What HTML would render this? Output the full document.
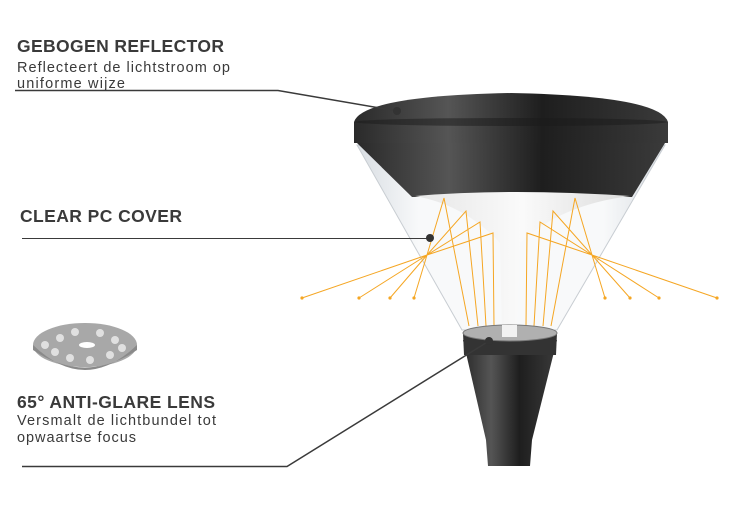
<!DOCTYPE html><html><head><meta charset="utf-8"><style>
body{margin:0;width:734px;height:522px;background:#fff;overflow:hidden;font-family:"Liberation Sans",sans-serif;color:#3a3a3a}
</style></head><body>
<svg width="734" height="522" viewBox="0 0 734 522" xmlns="http://www.w3.org/2000/svg">
<defs>
<linearGradient id="dk" x1="0" x2="1"><stop offset="0" stop-color="#2a2a2a"/><stop offset=".3" stop-color="#555"/><stop offset=".6" stop-color="#1e1e1e"/><stop offset="1" stop-color="#3a3a3a"/></linearGradient>
<linearGradient id="gl" x1="0" x2="1"><stop offset="0" stop-color="#d8dde2"/><stop offset=".2" stop-color="#f8f9fa"/><stop offset=".8" stop-color="#f8f9fa"/><stop offset="1" stop-color="#d8dde2"/></linearGradient>
<linearGradient id="wf" x1="0" x2="1"><stop offset="0" stop-color="#e6e6e6"/><stop offset=".5" stop-color="#fafafa"/><stop offset="1" stop-color="#dcdcdc"/></linearGradient>
</defs>
<path d="M357 145 L665 145 L557 330 L462 330 Z" fill="url(#gl)" stroke="#c8cdd2"/>
<path d="M357 143 L665 143 L632 197 L412 197 Z" fill="url(#dk)"/>
<path d="M354 122 Q362 96 511 93 Q660 96 668 122 L668 143 L354 143 Z" fill="url(#dk)"/>
<ellipse cx="511" cy="122" rx="156" ry="4" fill="#1a1a1a" opacity=".5"/>
<path d="M415 196 Q511 188 630 196 Q560 205 520 243 L517 337 L502 337 L500 243 Q465 205 415 196 Z" fill="url(#wf)"/>
<g stroke="#f5a623" stroke-width="1" fill="none">
<path d="M302 298 L427 255 M359 298 L427 255 M390 298 L427 255 M414 298 L427 255"/>
<path d="M427 255 L444 198 L469 326 M427 255 L466 211 L478 326 M427 255 L480 222 L486 326 M427 255 L493 233 L494 326"/>
<path d="M717 298 L592 255 M659 298 L592 255 M630 298 L592 255 M605 298 L592 255"/>
<path d="M592 255 L575 198 L551 326 M592 255 L553 211 L543 326 M592 255 L540 222 L534 326 M592 255 L527 233 L526 326"/>
</g>
<g fill="#f5a623"><circle cx="302" cy="298" r="1.6"/><circle cx="359" cy="298" r="1.6"/><circle cx="390" cy="298" r="1.6"/><circle cx="414" cy="298" r="1.6"/><circle cx="717" cy="298" r="1.6"/><circle cx="659" cy="298" r="1.6"/><circle cx="630" cy="298" r="1.6"/><circle cx="605" cy="298" r="1.6"/></g>
<path d="M463 340 L557 340 L532 440 L530 466 L488 466 L486 440 Z" fill="url(#dk)"/>
<path d="M463 333 L557 333 L556 355 L464 355 Z" fill="#333"/>
<ellipse cx="510" cy="333" rx="47" ry="8" fill="#b0b0b0" stroke="#777"/>
<rect x="502" y="325" width="15" height="12" fill="#f2f2f2"/>
<ellipse cx="85" cy="345" rx="52" ry="22" fill="#a8a8a8"/>
<path d="M33 345 Q85 395 137 345 L137 350 Q85 385 33 350Z" fill="#8a8a8a"/>
<g fill="#e0e0e0"><circle cx="60" cy="338" r="4"/><circle cx="75" cy="332" r="4"/><circle cx="100" cy="333" r="4"/><circle cx="115" cy="340" r="4"/><circle cx="55" cy="352" r="4"/><circle cx="70" cy="358" r="4"/><circle cx="90" cy="360" r="4"/><circle cx="110" cy="355" r="4"/><circle cx="122" cy="348" r="4"/><circle cx="45" cy="345" r="4"/></g>
<ellipse cx="87" cy="345" rx="8" ry="3" fill="#fff"/>
<g stroke="#3a3a3a" fill="none">
<path d="M15 90.5 L278 90.5 L397 111" stroke-width="1.5"/>
<path d="M22 238.5 L430 238.5" stroke-width="1"/>
<path d="M22 466.5 L287 466.5 L489 341" stroke-width="1.5"/>
</g>
<g fill="#333"><circle cx="397" cy="111" r="4"/><circle cx="430" cy="238" r="4"/><circle cx="489" cy="341" r="4"/></g>
<g font-family="Liberation Sans, sans-serif" fill="#3a3a3a">
<text x="17" y="52" font-size="17.5" font-weight="bold" textLength="207">GEBOGEN REFLECTOR</text>
<text x="17" y="72" font-size="14.5" textLength="213">Reflecteert de lichtstroom op</text>
<text x="17" y="88" font-size="14.5" textLength="108">uniforme wijze</text>
<text x="20" y="222" font-size="17.5" font-weight="bold" textLength="162">CLEAR PC COVER</text>
<text x="17" y="408" font-size="17.5" font-weight="bold" textLength="198">65° ANTI-GLARE LENS</text>
<text x="17" y="425" font-size="14.5" textLength="199">Versmalt de lichtbundel tot</text>
<text x="17" y="442" font-size="14.5" textLength="119">opwaartse focus</text>
</g>
</svg>
</body></html>
